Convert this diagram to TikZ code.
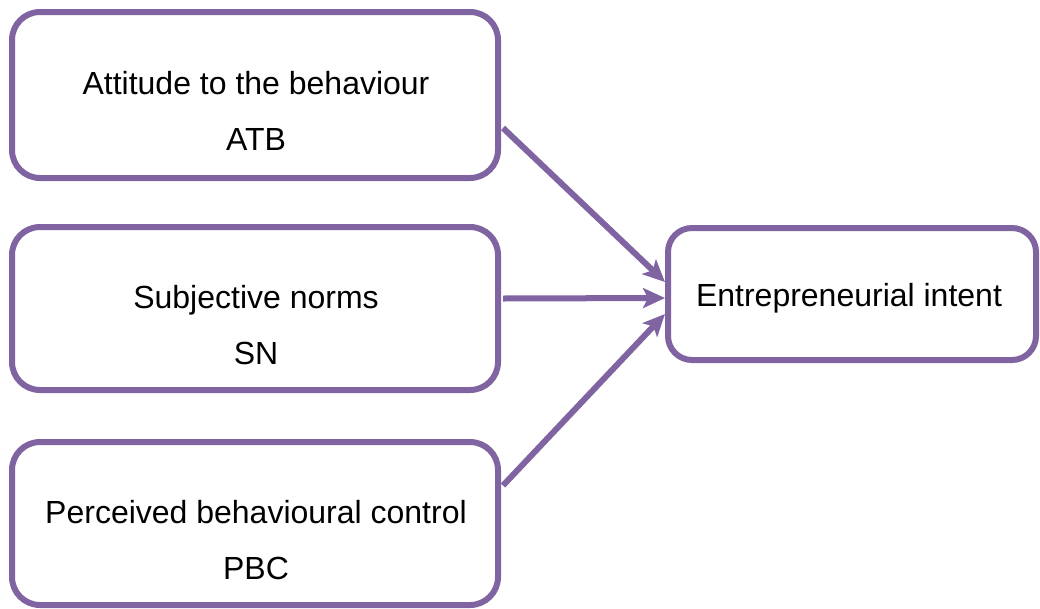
\documentclass[tikz,border=0pt]{standalone}
\usepackage{fontspec}
\setmainfont{Liberation Sans}
\usetikzlibrary{arrows.meta,calc}
\definecolor{boxpurple}{HTML}{8064A2}
\begin{document}
\begin{tikzpicture}[x=1pt,y=-1pt,
  box/.style={draw=boxpurple,line width=6pt,rounded corners=28pt,inner sep=0pt,fill=white},
  lbl/.style={anchor=base,inner sep=0pt,font=\fontsize{32}{38}\selectfont},
  conn/.style={draw=boxpurple,line width=6pt,-{Stealth[length=22pt,width=20pt,inset=5pt]}}]
\useasboundingbox (0,0) rectangle (1040,608);
\node[box,minimum width=486pt,minimum height=166pt] (atb) at (255,95) {};
\node[box,minimum width=486pt,minimum height=163pt] (sn) at (255,308.5) {};
\node[box,minimum width=486pt,minimum height=163pt] (pbc) at (255,523.5) {};
\node[box,minimum width=368pt,minimum height=132pt,rounded corners=24pt] (ei) at (852,294) {};
\node[lbl] (t1) at (256,94) {Attitude to the behaviour};
\node[lbl] (t1b) at (256,150) {ATB};
\node[lbl] (t2) at (256,308) {Subjective norms};
\node[lbl] (t2b) at (256,364) {SN};
\node[lbl] (t3) at (256,523) {Perceived behavioural control};
\node[lbl] (t3b) at (256,579) {PBC};
\node[lbl] (t4) at (849,306) {Entrepreneurial intent};
\draw[conn] ($(atb.east)+(2,33)$) -- ($(ei.west)+(0,-12)$);
\draw[conn] ($(sn.east)+(2,-10)$) -- ($(ei.west)+(0,4)$);
\draw[conn] ($(pbc.east)+(2,-38)$) -- ($(ei.west)+(0,20)$);
\end{tikzpicture}
\end{document}
